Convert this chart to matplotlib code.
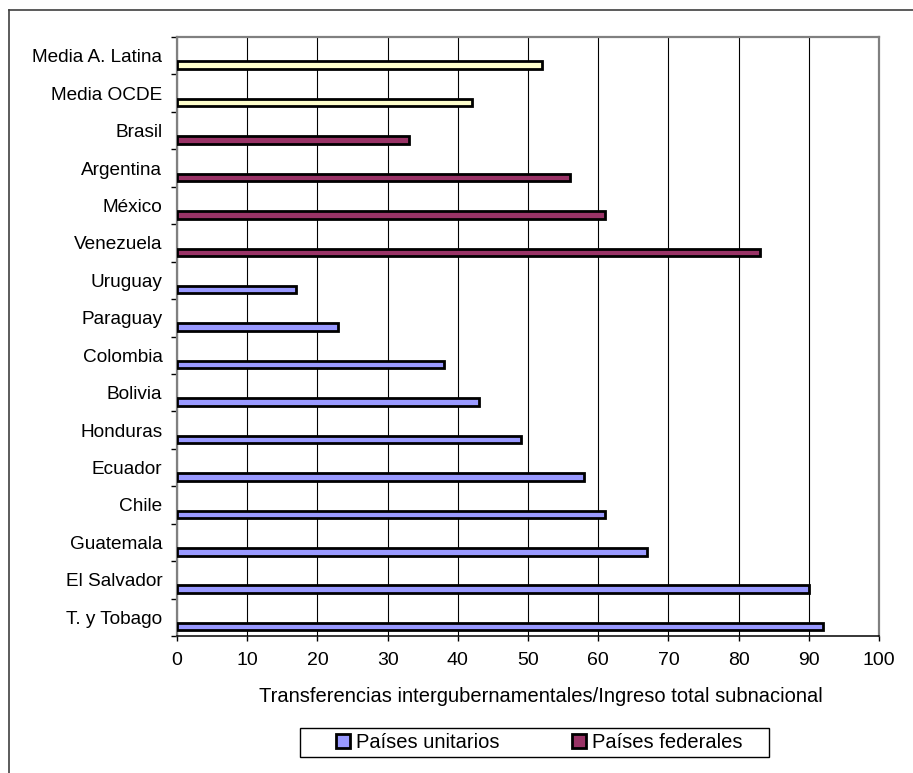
import matplotlib
matplotlib.use("Agg")
import matplotlib.pyplot as plt
from matplotlib.patches import Patch, Rectangle
from matplotlib.lines import Line2D

plt.rcParams['font.family'] = ['Liberation Sans', 'DejaVu Sans']

# categories from bottom to top
paises = ["T. y Tobago", "El Salvador", "Guatemala", "Chile", "Ecuador",
          "Honduras", "Bolivia", "Colombia", "Paraguay", "Uruguay",
          "Venezuela", "México", "Argentina", "Brasil",
          "Media OCDE", "Media A. Latina"]
valores = [92, 90, 67, 61, 58, 49, 43, 38, 23, 17,
           83, 61, 56, 33, 42, 52]
grupo = ["unitario"] * 10 + ["federal"] * 4 + ["media"] * 2

colores = {"unitario": "#9999FF", "federal": "#993366", "media": "#FFFFCC"}
xticks = [0, 10, 20, 30, 40, 50, 60, 70, 80, 90, 100]

W, H = 913, 773
fig = plt.figure(figsize=(W / 100, H / 100), dpi=100)
ax = fig.add_axes([177 / W, (H - 636) / H, 702 / W, 599 / H])

# bars sit in the lower part of each band (Excel grouped-bar look)
pos = list(range(len(paises)))
ax.barh([p - 0.25 for p in pos], valores, height=0.2,
        color=[colores[g] for g in grupo], edgecolor="black",
        linewidth=2.0, zorder=3)

ax.set_xlim(0, 100)
ax.set_ylim(-0.5, len(paises) - 0.5)
ax.set_xticks(xticks)
ax.tick_params(axis="x", direction="out", length=3.6, width=1,
               pad=8, labelsize=14)

# tick marks on band boundaries, labels at band centres
ax.set_yticks([p - 0.5 for p in range(len(paises) + 1)])
ax.set_yticklabels([])
ax.tick_params(axis="y", which="major", direction="out", length=4.5, width=1)
ax.set_yticks(pos, minor=True)
ax.set_yticklabels(paises, minor=True)
ax.tick_params(axis="y", which="minor", length=0, pad=10.5, labelsize=13.7)

ax.grid(axis="x", color="black", linewidth=0.8, zorder=0)
ax.set_axisbelow(True)
for s in ["top", "right", "left"]:
    ax.spines[s].set_color("#808080")
    ax.spines[s].set_linewidth(1.6)
ax.spines["bottom"].set_color("black")
ax.spines["bottom"].set_linewidth(1.1)

fig.text(541 / W, (H - 697) / H,
         "Transferencias intergubernamentales/Ingreso total subnacional",
         ha="center", va="center", fontsize=14.5)

# legend
handles = [Patch(facecolor=colores["unitario"], edgecolor="black", linewidth=2),
           Patch(facecolor=colores["federal"], edgecolor="black", linewidth=2)]
fig.legend(handles, ["Países unitarios", "Países federales"], ncol=2,
           loc="center", bbox_to_anchor=(539 / W, (H - 742.5) / H),
           frameon=False, fontsize=14.5, handlelength=0.7, handleheight=0.7,
           handletextpad=0.3, columnspacing=3.6)
fig.add_artist(Rectangle((300 / W, (H - 757) / H), 469 / W, 29 / H,
                         transform=fig.transFigure, fill=False,
                         edgecolor="black", linewidth=1))

# outer chart frame (runs off the image to the right and bottom)
fig.add_artist(Line2D([9 / W, 9 / W], [0, (H - 10) / H],
                      transform=fig.transFigure, color="#404040", linewidth=1.2))
fig.add_artist(Line2D([9 / W, 1], [(H - 10) / H, (H - 10) / H],
                      transform=fig.transFigure, color="#404040", linewidth=1.2))

fig.savefig("out.png", dpi=100)
